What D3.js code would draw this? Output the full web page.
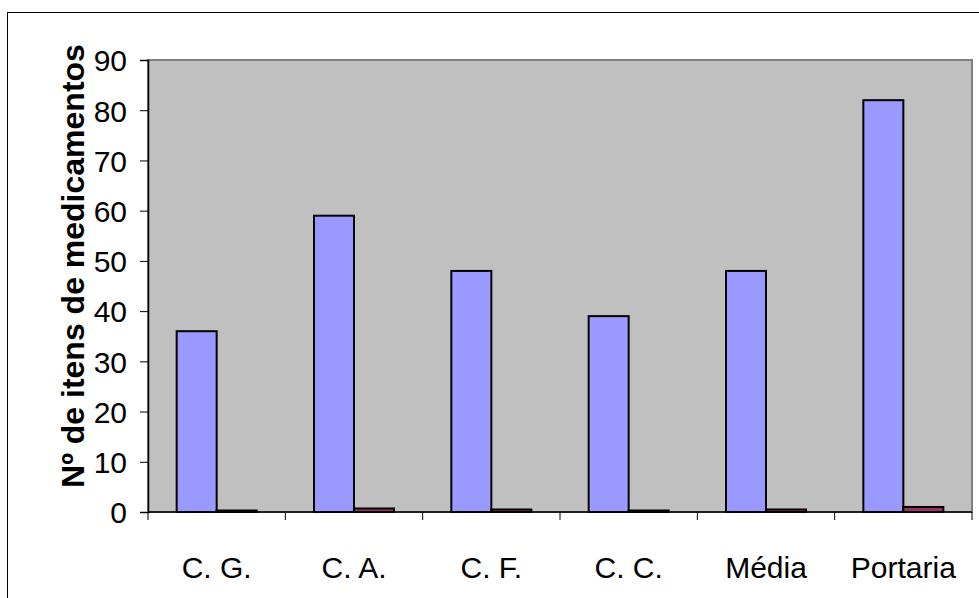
<!DOCTYPE html>
<html><head><meta charset="utf-8">
<script src="https://cdn.jsdelivr.net/npm/d3@7"></script>
<style>body{margin:0;background:#fff;}svg{display:block;font-family:Arial,"Liberation Sans",sans-serif;}</style>
</head><body>
<svg id="c" width="979" height="598"></svg>
<script>
const categories = ["C. G.", "C. A.", "C. F.", "C. C.", "Média", "Portaria"];
const seriesA = [36, 59, 48, 39, 48, 82];
const seriesB = [0.3, 0.7, 0.5, 0.3, 0.5, 1.0];
const yTicks = [0, 10, 20, 30, 40, 50, 60, 70, 80, 90];
const yLabel = "Nº de itens de medicamentos";

const svg = d3.select("#c");
const m = {left: 148, right: 972, top: 60, bottom: 512};
const FS = 30;

svg.append("rect").attr("x", 7.5).attr("y", 12.5).attr("width", 1000).attr("height", 700)
  .attr("fill", "#fff").attr("stroke", "#000").attr("stroke-width", 1);

const x = d3.scaleBand().domain(categories).range([m.left, m.right]).paddingInner(0).paddingOuter(0);
const y = d3.scaleLinear().domain([0, 90]).range([m.bottom, m.top]);

svg.append("rect").attr("x", m.left).attr("y", m.top).attr("width", m.right - m.left).attr("height", m.bottom - m.top)
  .attr("fill", "#c0c0c0").attr("stroke", "#808080").attr("stroke-width", 2);

const bw = 40;
const g = svg.append("g");
categories.forEach((c, i) => {
  const cx = x(c) + x.bandwidth() / 2;
  g.append("rect").attr("x", cx - bw).attr("y", y(seriesA[i])).attr("width", bw)
    .attr("height", y(0) - y(seriesA[i])).attr("fill", "#9999ff").attr("stroke", "#000").attr("stroke-width", 2);
  g.append("rect").attr("x", cx).attr("y", y(seriesB[i])).attr("width", bw)
    .attr("height", y(0) - y(seriesB[i])).attr("fill", "#993366").attr("stroke", "#000").attr("stroke-width", 2);
});

const ya = d3.axisLeft(y).tickValues(yTicks).tickSize(8).tickPadding(13);
const yg = svg.append("g").attr("transform", `translate(${m.left},0)`).call(ya);
yg.select(".domain").attr("stroke", "#000").attr("stroke-width", 1.5);
yg.selectAll(".tick line").attr("stroke", "#000");
yg.selectAll("text").attr("font-size", FS).attr("fill", "#000").attr("dy", "0.36em")
  .attr("font-family", "Arial, 'Liberation Sans', sans-serif");

const xa = d3.axisBottom(x).tickSize(0).tickPadding(0);
const xg = svg.append("g").attr("transform", `translate(0,${m.bottom})`).call(xa);
xg.select(".domain").remove();
xg.selectAll("text").attr("font-size", FS).attr("fill", "#000").attr("dy", 0).attr("y", 66)
  .attr("font-family", "Arial, 'Liberation Sans', sans-serif");
const bounds = x.domain().map(d => x(d)).concat([m.right]);
svg.append("line").attr("x1", m.left).attr("x2", m.right).attr("y1", m.bottom).attr("y2", m.bottom)
  .attr("stroke", "#000").attr("stroke-width", 1.5);
svg.selectAll(".xt").data(bounds).enter().append("line")
  .attr("x1", d => d).attr("x2", d => d).attr("y1", m.bottom).attr("y2", m.bottom + 8)
  .attr("stroke", "#000");

svg.append("text").attr("transform", `translate(84,${(m.top + m.bottom) / 2 - 20}) rotate(-90)`)
  .attr("text-anchor", "middle").attr("font-size", 32).attr("font-weight", "bold").text(yLabel);
</script>
</body></html>
